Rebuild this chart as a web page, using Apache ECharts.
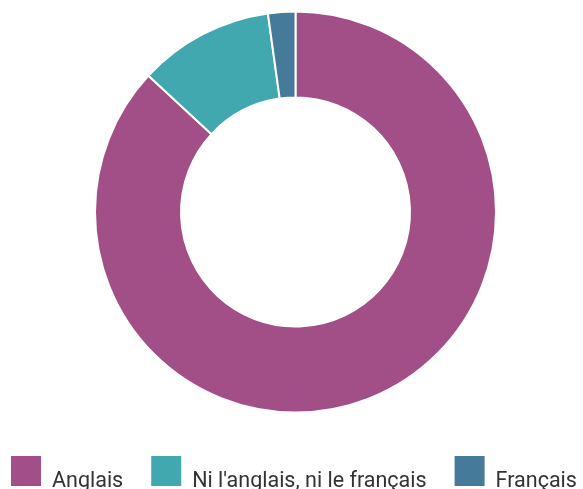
<!DOCTYPE html>
<html><head><meta charset="utf-8">
<script src="https://cdn.jsdelivr.net/npm/echarts@6/dist/echarts.min.js"></script>
<style>html,body{margin:0;padding:0;background:#fff}#c{width:583px;height:489px}</style>
</head><body><div id="c"></div>
<script>
const categories = ["Anglais", "Ni l'anglais, ni le français", "Français"];
const values = [86.9, 10.9, 2.2];
const colors = ["#a34f87", "#41a8af", "#467a9a"];

const chart = echarts.init(document.getElementById('c'), null, {renderer: 'canvas'});
chart.setOption({
  animation: false,
  color: colors,
  legend: {
    left: 9, top: 454, padding: 0, width: 700,
    itemWidth: 32, itemHeight: 32, itemGap: 26,
    icon: 'rect',
    selectedMode: false,
    formatter: '{t|{name}}',
    textStyle: {
      fontFamily: 'Roboto', fontSize: 21.5, color: '#333',
      rich: {t: {fontFamily: 'Roboto', fontSize: 21.5, color: '#333', padding: [22, 0, 0, 5]}}
    },
    data: categories
  },
  series: [{
    type: 'pie',
    center: [295.5, 212],
    radius: [114.5, 200.5],
    startAngle: 90,
    clockwise: true,
    label: {show: false},
    labelLine: {show: false},
    emphasis: {disabled: true},
    itemStyle: {borderColor: '#fff', borderWidth: 2},
    data: categories.map((n, i) => ({name: n, value: values[i]}))
  }]
});
</script></body></html>
